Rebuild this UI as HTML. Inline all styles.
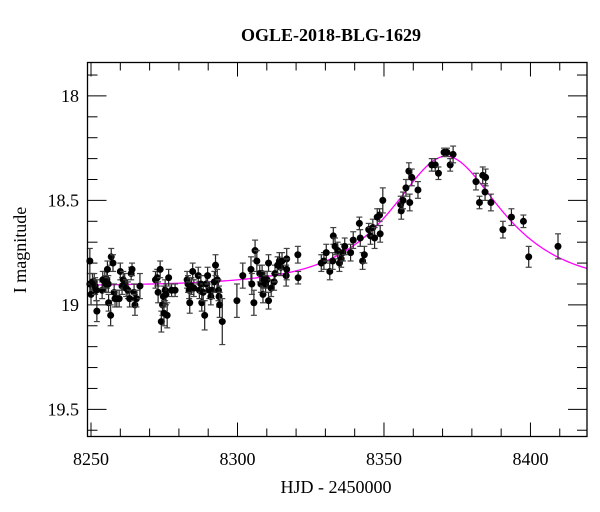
<!DOCTYPE html>
<html><head><meta charset="utf-8">
<style>
html,body{margin:0;padding:0;background:#fff;}
svg{display:block;font-family:"Liberation Serif","DejaVu Serif",serif;}
</style></head>
<body>
<svg id="chart" width="600" height="512" viewBox="0 0 600 512" xmlns="http://www.w3.org/2000/svg">
<text x="331" y="41" font-size="18" font-weight="600" text-anchor="middle">OGLE-2018-BLG-1629</text>
<text x="336" y="493" font-size="18" text-anchor="middle">HJD - 2450000</text>
<text x="0" y="0" font-size="18" text-anchor="middle" transform="translate(26,250) rotate(-90)">I magnitude</text>
<g id="ticks"></g>
<g id="model"></g>
<g id="points"></g>
<rect x="87.5" y="62.5" width="499.5" height="374" fill="none" stroke="#000" stroke-width="1.3"/>
</svg>
<script>
const days = [8249.6,8249.6,8250.0,8250.5,8251.1,8251.4,8251.8,8252.0,8253.8,8254.0,8254.7,8255.1,8255.4,8255.6,8255.9,8256.0,8256.7,8256.9,8257.5,8257.9,8258.2,8258.8,8259.6,8260.0,8260.6,8261.0,8261.5,8262.0,8262.6,8263.2,8263.7,8264.0,8264.7,8265.0,8265.5,8266.7,
8272.0,8272.6,8272.9,8273.6,8274.0,8274.4,8274.7,8274.9,8275.3,8275.6,8276.0,8276.5,8277.5,8278.7,
8282.8,8283.1,8283.5,8283.7,8284.3,8284.7,8285.1,8286.6,8287.0,8287.5,8287.8,8288.3,8288.8,8289.3,8289.8,8290.4,8290.9,8291.3,8292.1,8292.5,8293.1,8293.5,8293.7,8293.9,8294.8,
8299.8,8301.8,8304.6,8304.9,8305.6,8306.0,8306.6,8307.6,8308.0,8308.4,8308.7,8309.1,8309.6,8310.1,8310.6,8310.6,8311.5,8312.5,8312.8,8313.7,8314.3,8314.8,8315.2,8316.6,8316.8,8316.8,8320.6,8320.7,
8328.6,8329.5,8330.3,8331.5,8332.5,8332.7,8333.3,8334.2,8334.8,8335.4,8336.0,8336.6,8338.6,8339.5,8341.6,8341.9,8342.7,8343.3,8344.8,8345.4,8346.2,8346.8,8347.7,8348.5,8348.7,8349.6,
8355.7,8355.9,8356.5,8357.5,8358.5,8358.8,8359.5,8361.6,8366.3,8367.5,8368.6,8370.5,8371.5,8372.6,8373.6,
8381.4,8382.6,8383.7,8384.7,8384.5,8386.5,8390.6,8393.5,8397.6,8399.4,8409.4];
const mags = [18.79,18.90,18.95,18.89,18.89,18.91,18.93,19.03,18.93,18.88,18.88,18.90,18.88,18.83,18.90,18.99,19.05,18.77,18.80,18.94,18.97,18.97,18.97,18.84,18.91,18.88,18.89,18.92,18.93,18.97,18.85,18.83,18.94,19.00,18.97,18.91,
18.88,18.87,18.94,18.83,19.08,19.00,18.96,19.04,18.93,18.95,19.05,18.87,18.93,18.93,
18.88,18.90,18.93,18.99,18.91,18.84,18.92,18.86,18.93,18.90,18.99,18.94,19.05,18.90,18.86,18.93,18.96,18.93,18.89,18.81,18.88,18.93,18.96,19.00,19.08,
18.98,18.86,18.83,18.90,18.99,18.74,18.79,18.85,18.90,18.85,18.95,18.88,18.90,18.88,18.80,18.98,18.92,18.89,18.85,18.81,18.79,18.82,18.79,18.86,18.78,18.83,18.76,18.87,
18.80,18.79,18.75,18.84,18.79,18.67,18.72,18.74,18.80,18.78,18.75,18.72,18.75,18.69,18.61,18.68,18.79,18.76,18.64,18.67,18.63,18.68,18.58,18.57,18.66,18.50,
18.52,18.55,18.50,18.44,18.36,18.51,18.39,18.45,18.33,18.33,18.37,18.27,18.27,18.33,18.28,
18.41,18.51,18.38,18.39,18.46,18.51,18.64,18.58,18.60,18.77,18.72];
const errs = [0.06,0.05,0.05,0.04,0.04,0.04,0.05,0.05,0.04,0.04,0.04,0.04,0.04,0.04,0.04,0.04,0.05,0.04,0.04,0.04,0.04,0.04,0.04,0.04,0.04,0.04,0.04,0.04,0.04,0.04,0.03,0.03,0.04,0.05,0.04,0.06,
0.04,0.04,0.05,0.04,0.05,0.05,0.05,0.06,0.05,0.05,0.06,0.04,0.03,0.03,
0.04,0.04,0.04,0.05,0.04,0.04,0.04,0.04,0.04,0.04,0.04,0.04,0.07,0.04,0.04,0.04,0.04,0.04,0.05,0.05,0.05,0.05,0.05,0.06,0.11,
0.08,0.06,0.06,0.05,0.06,0.05,0.05,0.04,0.04,0.04,0.04,0.04,0.04,0.04,0.04,0.04,0.04,0.04,0.04,0.04,0.04,0.04,0.04,0.05,0.05,0.05,0.04,0.03,
0.04,0.04,0.04,0.04,0.04,0.04,0.04,0.04,0.04,0.04,0.04,0.04,0.04,0.04,0.03,0.04,0.04,0.04,0.03,0.04,0.04,0.05,0.04,0.03,0.04,0.06,
0.04,0.04,0.04,0.04,0.04,0.04,0.04,0.04,0.03,0.03,0.03,0.02,0.02,0.03,0.04,
0.04,0.03,0.04,0.04,0.04,0.04,0.04,0.04,0.03,0.05,0.06];
const model_t0 = 8371.2, model_u0 = 0.65, model_tE = 28.5, model_base = 18.91;
const xTickLabels = ["8250","8300","8350","8400"];
const yTickLabels = ["18","18.5","19","19.5"];

const NS = "http://www.w3.org/2000/svg";
const X0 = 87.5, X1 = 587, Y0 = 62.5, Y1 = 436.5;
const dMin = 8248.8, dMax = 8419.3, mTop = 17.84, mBot = 19.63;
function xs(d){ return X0 + (d - dMin) / (dMax - dMin) * (X1 - X0); }
function ys(m){ return Y0 + (m - mTop) / (mBot - mTop) * (Y1 - Y0); }
function mk(tag, attrs, parent){ const e = document.createElementNS(NS, tag); for (const k in attrs) e.setAttribute(k, attrs[k]); parent.appendChild(e); return e; }

const tg = document.getElementById('ticks');
for (let d = 8250; d <= 8419; d += 10) {
  const major = (d % 50 === 0);
  const L = major ? 14 : 8;
  const x = xs(d);
  const t1 = mk('line', {x1:x, y1:Y1, x2:x, y2:Y1-L, stroke:'#000', 'stroke-width':1}, tg);
  
  
  const t2 = mk('line', {x1:x, y1:Y0, x2:x, y2:Y0+L, stroke:'#000', 'stroke-width':1}, tg);
  
  
}
xTickLabels.forEach(s => {
  const t = mk('text', {x:xs(parseFloat(s)), y:465, 'font-size':18, 'text-anchor':'middle'}, tg);
  t.textContent = s;
  
  
});
for (let i = 179; i <= 196; i++) {
  const m = i / 10;
  const major = (i % 5 === 0);
  const L = major ? 19 : 10;
  const y = ys(m);
  const t1 = mk('line', {x1:X0, y1:y, x2:X0+L, y2:y, stroke:'#000', 'stroke-width':1}, tg);
  
  
  const t2 = mk('line', {x1:X1, y1:y, x2:X1-L, y2:y, stroke:'#000', 'stroke-width':1}, tg);
  
  
}
yTickLabels.forEach(s => {
  const t = mk('text', {x:79, y:ys(parseFloat(s))+6, 'font-size':18, 'text-anchor':'end'}, tg);
  t.textContent = s;
  
  
});

function modelMag(t){
  const tau = (t - model_t0) / model_tE;
  const u = Math.sqrt(model_u0*model_u0 + tau*tau);
  const A = (u*u + 2) / (u * Math.sqrt(u*u + 4));
  return model_base - 2.5 * Math.log10(A);
}
let dpath = '';
for (let t = dMin; t <= dMax; t += 0.5) {
  dpath += (dpath ? 'L' : 'M') + xs(t).toFixed(2) + ',' + ys(modelMag(t)).toFixed(2);
}
const mg = document.getElementById('model');
const mp = mk('path', {d:dpath, fill:'none', stroke:'#ff00ff', 'stroke-width':1.3}, mg);



const pg = document.getElementById('points');
for (let i = 0; i < days.length; i++) {
  const x = xs(days[i]), y = ys(mags[i]);
  const ya = ys(mags[i] - errs[i]), yb = ys(mags[i] + errs[i]);
  const g = mk('g', {}, pg);
  
  
  mk('line', {x1:x, y1:ya, x2:x, y2:yb, stroke:'#222', 'stroke-width':1.2}, g);
  mk('line', {x1:x-3, y1:ya, x2:x+3, y2:ya, stroke:'#444', 'stroke-width':1.2}, g);
  mk('line', {x1:x-3, y1:yb, x2:x+3, y2:yb, stroke:'#444', 'stroke-width':1.2}, g);
  mk('circle', {cx:x, cy:y, r:3.5, fill:'#000'}, g);
}
</script>
</body></html>
